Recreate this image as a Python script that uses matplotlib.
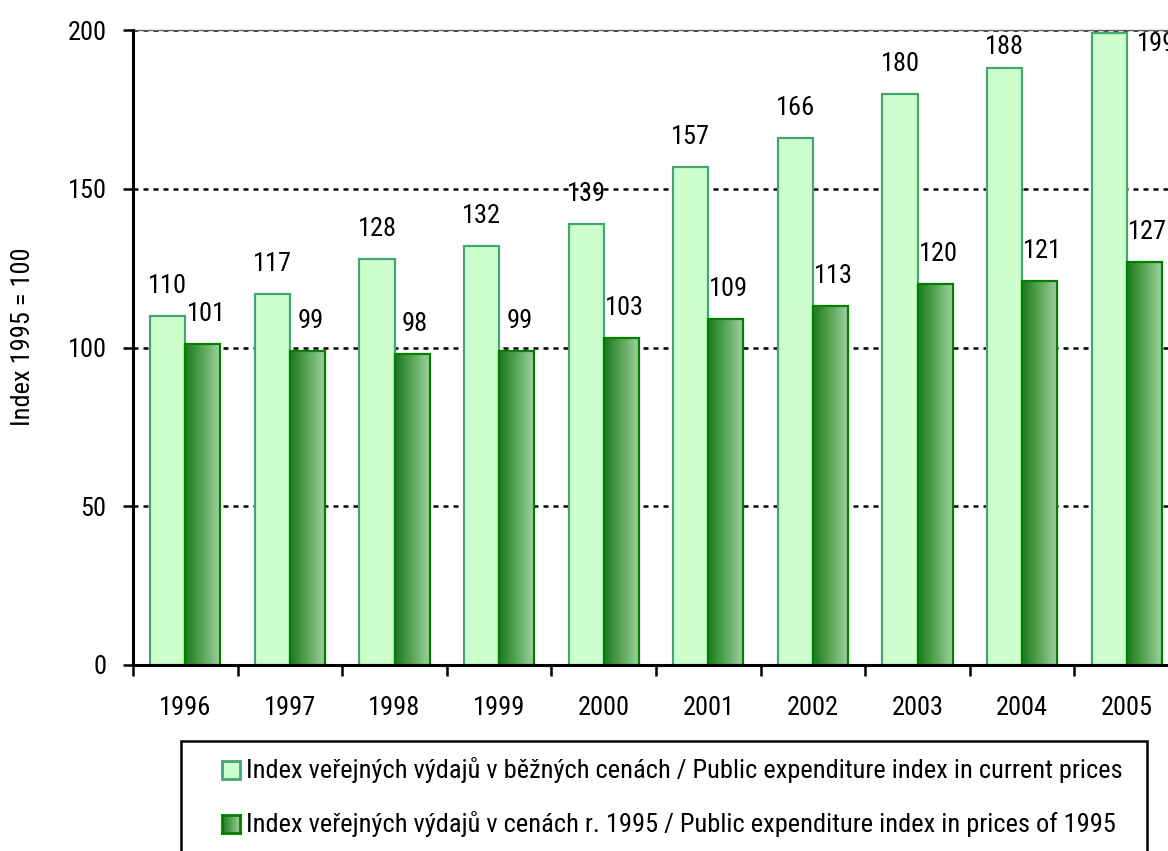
import numpy as np
import matplotlib
matplotlib.use("Agg")
import matplotlib.pyplot as plt
from matplotlib.colors import LinearSegmentedColormap
from matplotlib.patches import Rectangle

plt.rcParams['font.family'] = ['Roboto Condensed', 'Archivo Narrow', 'DejaVu Sans']

years = ['1996', '1997', '1998', '1999', '2000', '2001', '2002', '2003', '2004', '2005']
current_prices = [110, 117, 128, 132, 139, 157, 166, 180, 188, 199]
prices_1995 = [101, 99, 98, 99, 103, 109, 113, 120, 121, 127]
label_current = "Index veřejných výdajů v běžných cenách / Public expenditure index in current prices"
label_1995 = "Index veřejných výdajů v cenách r. 1995 / Public expenditure index in prices of 1995"

W, H = 1168, 851
light_fill = '#ccffcc'
light_edge = '#45a575'
dark_edge = '#008000'
grad = LinearSegmentedColormap.from_list('g', ['#1d7a1d', '#5aa85a', '#a3d3a3'])
fs = 19

fig = plt.figure(figsize=(W/100, H/100), dpi=100)
ax = fig.add_axes([133/W, 1-665/H, 1046/W, 635/H])

x = np.arange(len(years))
bw = 0.335

# grid behind bars
for g in [50, 100, 150, 200]:
    ax.axhline(g, color='black', lw=1.8, ls=(0, (2, 2)), zorder=0)

ax.bar(x - bw/2, current_prices, bw, color=light_fill, edgecolor=light_edge, lw=1.6, zorder=2)

gimg = np.linspace(0, 1, 64).reshape(1, -1)
for xi, v in zip(x, prices_1995):
    ax.imshow(gimg, extent=[xi, xi + bw, 0, v], aspect='auto', cmap=grad, zorder=2)
ax.bar(x + bw/2, prices_1995, bw, fill=False, edgecolor=dark_edge, lw=1.6, zorder=3)

# data labels (kept inside the plot area near the top, like Excel does)
for xi, v in zip(x, current_prices):
    if v + 9 > 198:
        ax.text(xi + bw/2 + 0.12, 195.5, str(v), ha='center', va='center', fontsize=fs, clip_on=False)
    else:
        ax.text(xi - bw/2, min(v + 9.3, 194.5), str(v), ha='center', va='center', fontsize=fs)
for xi, v in zip(x, prices_1995):
    ax.text(xi + bw/2 + 0.03, v + 9.5, str(v), ha='center', va='center', fontsize=fs)

ax.set_xlim(-0.5, len(years) - 0.5)
ax.set_ylim(0, 200)
ax.set_yticks([0, 50, 100, 150, 200])
ax.tick_params(axis='y', length=7, width=1.8, pad=12, labelsize=fs)
ax.set_xticks(x)
ax.set_xticklabels(years)
ax.set_xticks(np.arange(len(years)) - 0.5, minor=True)
ax.tick_params(axis='x', which='major', length=0, pad=22, labelsize=fs)
ax.tick_params(axis='x', which='minor', length=8, width=1.8)

for s in ['left', 'bottom']:
    ax.spines[s].set_linewidth(2.2)
    ax.spines[s].set_zorder(4)
ax.spines['right'].set_visible(False)
ax.spines['top'].set_color('#666666')
ax.spines['top'].set_linewidth(1)

ax.set_ylabel('Index 1995 = 100', fontsize=fs, va='center')
ax.yaxis.set_label_coords((23-133)/1046, (665-337)/635)

# legend box drawn by hand
fig.add_artist(Rectangle((181/W, -0.05), (1147-181)/W, (H-741)/H + 0.05, transform=fig.transFigure,
                         fill=False, edgecolor='black', lw=1.8))
ms = 18
for yc, lab, kind in [(770, label_current, 'light'), (824, label_1995, 'dark')]:
    if kind == 'light':
        fig.add_artist(Rectangle((222/W, 1-(yc+ms/2)/H), ms/W, ms/H, transform=fig.transFigure,
                                 facecolor=light_fill, edgecolor=light_edge, lw=2))
    else:
        max_ = fig.add_axes([222/W, 1-(yc+ms/2)/H, ms/W, ms/H])
        max_.imshow(gimg, aspect='auto', cmap=grad)
        max_.set_xticks([])
        max_.set_yticks([])
        for s in max_.spines.values():
            s.set_color(dark_edge)
            s.set_linewidth(2)
    fig.text(246/W, 1-yc/H, lab, ha='left', va='center', fontsize=fs)

fig.savefig('out.png', dpi=100)
